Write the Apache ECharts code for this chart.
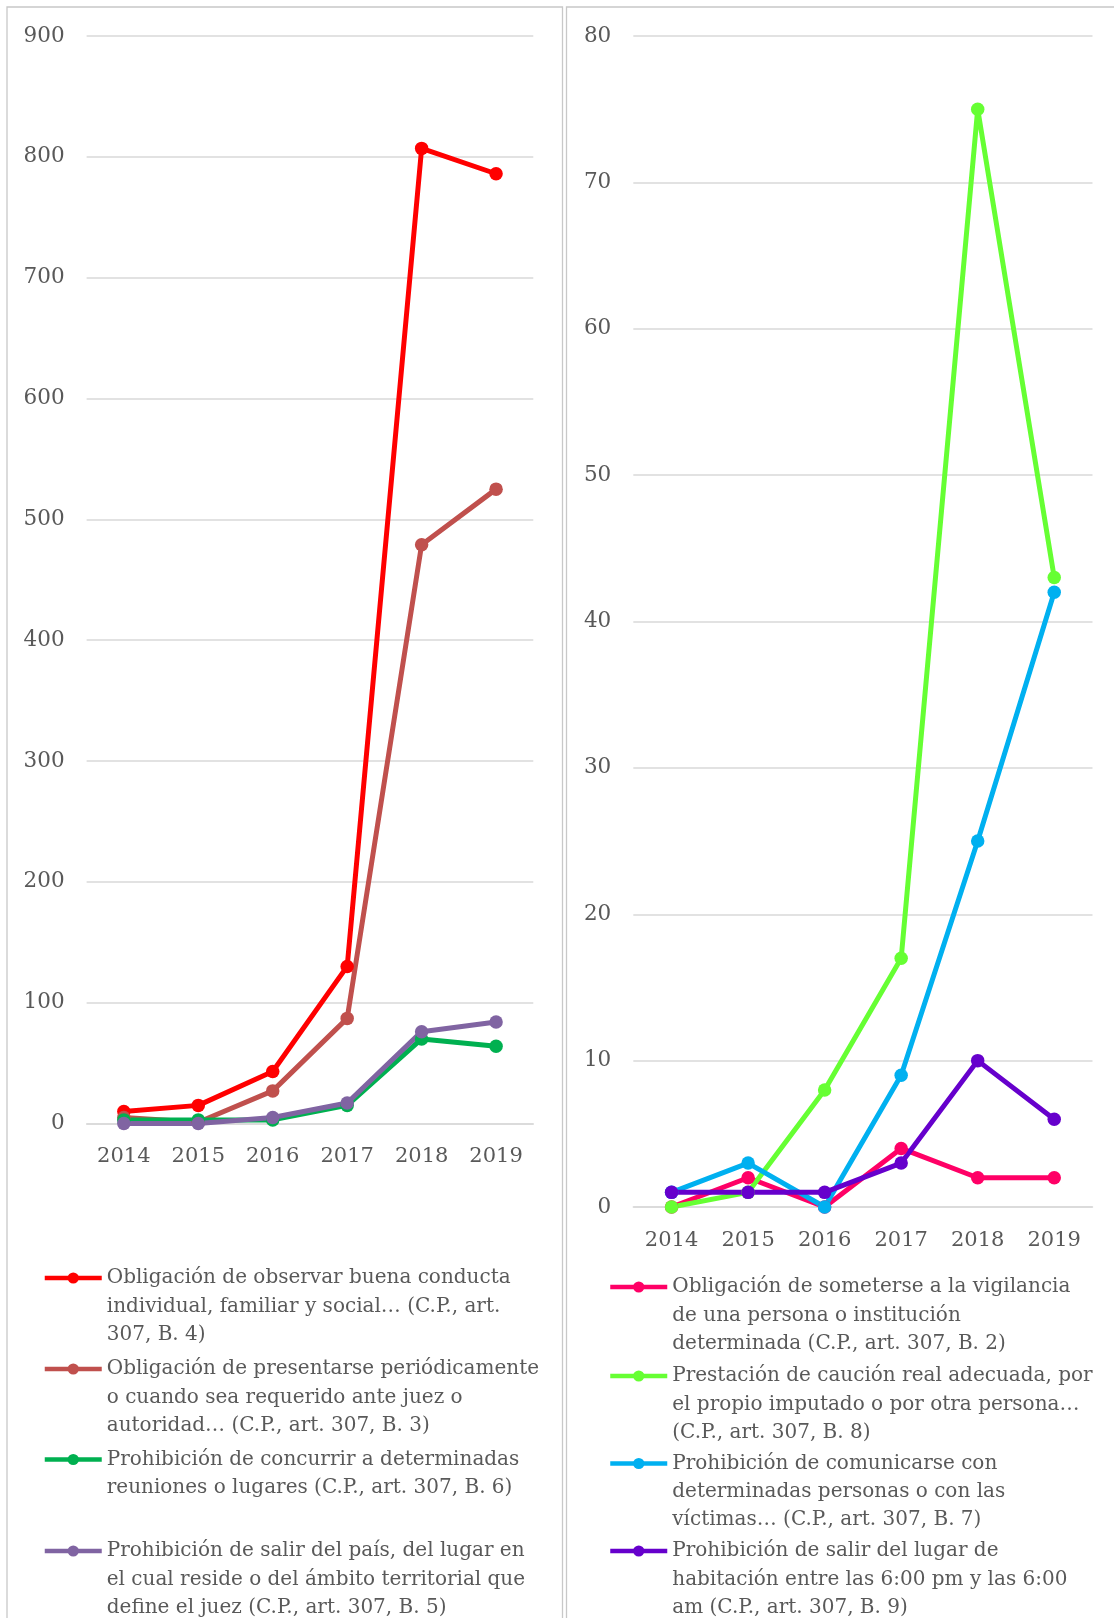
<!DOCTYPE html>
<html>
<head>
<meta charset="utf-8">
<style>
  html, body { margin: 0; padding: 0; background: #ffffff; }
  #chart { width: 1114px; height: 1618px; }
</style>
<script src="https://cdn.jsdelivr.net/npm/echarts@6/dist/echarts.min.js"></script>
</head>
<body>
<div id="chart"></div>
<script>
// Years shared by both panels
const years = ['2014', '2015', '2016', '2017', '2018', '2019'];

// Left panel: measures with large counts
const leftNames = [
  ['Obligación de observar buena conducta', 'individual, familiar y social… (C.P., art.', '307, B. 4)'],
  ['Obligación de presentarse periódicamente', 'o cuando sea requerido ante juez o', 'autoridad… (C.P., art. 307, B. 3)'],
  ['Prohibición de concurrir a determinadas', 'reuniones o lugares (C.P., art. 307, B. 6)'],
  ['Prohibición de salir del país, del lugar en', 'el cual reside o del ámbito territorial que', 'define el juez (C.P., art. 307, B. 5)']
];
const buenaConducta = [10, 15, 43, 130, 807, 786];
const presentarse = [5, 1, 27, 87, 479, 525];
const concurrir = [3, 3, 3, 15, 70, 64];
const salirPais = [0, 0, 5, 17, 76, 84];
const leftColors = ['#FF0000', '#C0504D', '#00B050', '#8064A2'];
const leftTicks = { min: 0, max: 900, interval: 100 };

// Right panel: measures with small counts
const rightNames = [
  ['Obligación de someterse a la vigilancia', 'de una persona o institución', 'determinada (C.P., art. 307, B. 2)'],
  ['Prestación de caución real adecuada, por', 'el propio imputado o por otra persona…', '(C.P., art. 307, B. 8)'],
  ['Prohibición de comunicarse con', 'determinadas personas o con las', 'víctimas… (C.P., art. 307, B. 7)'],
  ['Prohibición de salir del lugar de', 'habitación entre las 6:00 pm y las 6:00', 'am (C.P., art. 307, B. 9)']
];
const vigilancia = [0, 2, 0, 4, 2, 2];
const caucion = [0, 1, 8, 17, 75, 43];
const comunicarse = [1, 3, 0, 9, 25, 42];
const habitacion = [1, 1, 1, 3, 10, 6];
const rightColors = ['#FF0066', '#66FF33', '#00B0F0', '#6600CC'];
const rightTicks = { min: 0, max: 80, interval: 10 };

const leftData = [buenaConducta, presentarse, concurrir, salirPais];
const rightData = [vigilancia, caucion, comunicarse, habitacion];

const FONT = 'DejaVu Serif';
const TEXT = '#595959';
const GRIDLINE = '#D9D9D9';
const LINE_H = 28.3;

// Legend rows: first-line centre of each entry
const leftLegendY = [1278, 1369, 1459.5, 1551];
const rightLegendY = [1287, 1376, 1463.5, 1551];

const chart = echarts.init(document.getElementById('chart'), null, { renderer: 'canvas' });

function valueAxis(gridIndex, ticks) {
  return {
    type: 'value', gridIndex,
    min: ticks.min, max: ticks.max, interval: ticks.interval,
    axisLine: { show: false }, axisTick: { show: false },
    splitLine: { lineStyle: { color: GRIDLINE, width: 1.5 } },
    axisLabel: { color: TEXT, fontFamily: FONT, fontSize: 21.5, margin: 22, padding: [4, 0, 0, 0] }
  };
}
function catAxis(gridIndex) {
  return {
    type: 'category', gridIndex, data: years, boundaryGap: true,
    axisLine: { lineStyle: { color: GRIDLINE, width: 1.5 } },
    axisTick: { show: false },
    axisLabel: { color: TEXT, fontFamily: FONT, fontSize: 21, margin: 23 }
  };
}

const series = [];
const legends = [];
const labelOf = {};

function addPanel(names, data, colors, axisIndex, legendLeft, legendY) {
  names.forEach((lines, i) => {
    const name = lines.join(' ');
    const n = lines.length;
    // The legend centres its text block on the icon; leading blank lines
    // bring the first text line level with the icon.
    labelOf[name] = new Array(n - 1).fill('').concat(lines).join('\n');
    series.push({
      name, type: 'line', xAxisIndex: axisIndex, yAxisIndex: axisIndex,
      data: data[i], symbol: 'circle', symbolSize: 13.5,
      lineStyle: { color: colors[i], width: 5 },
      itemStyle: { color: colors[i] },
      emphasis: { disabled: true }
    });
    legends.push({
      data: [name], orient: 'vertical', left: legendLeft,
      top: legendY[i] - ((2 * n - 1) / 2) * LINE_H, padding: 0,
      itemWidth: 57, itemHeight: 14, selectedMode: false,
      lineStyle: { width: 4.5 },
      formatter: nm => labelOf[nm],
      textStyle: { color: TEXT, fontFamily: FONT, fontSize: 20, lineHeight: LINE_H }
    });
  });
}

addPanel(leftNames, leftData, leftColors, 0, 42.5, leftLegendY);
addPanel(rightNames, rightData, rightColors, 1, 608, rightLegendY);

chart.setOption({
  animation: false,
  backgroundColor: '#ffffff',
  grid: [
    { left: 86.6, right: 580.7, top: 36, bottom: 494.5 },
    { left: 633.3, right: 21.5, top: 36, bottom: 411 }
  ],
  xAxis: [catAxis(0), catAxis(1)],
  yAxis: [valueAxis(0, leftTicks), valueAxis(1, rightTicks)],
  legend: legends,
  series,
  graphic: [
    { type: 'rect', silent: true, shape: { x: 7, y: 7, width: 555.5, height: 1700 },
      style: { fill: 'none', stroke: '#C8C8C8', lineWidth: 1.3 } },
    { type: 'rect', silent: true, shape: { x: 566.5, y: 7, width: 700, height: 1700 },
      style: { fill: 'none', stroke: '#C8C8C8', lineWidth: 1.3 } }
  ]
});
</script>
</body>
</html>
